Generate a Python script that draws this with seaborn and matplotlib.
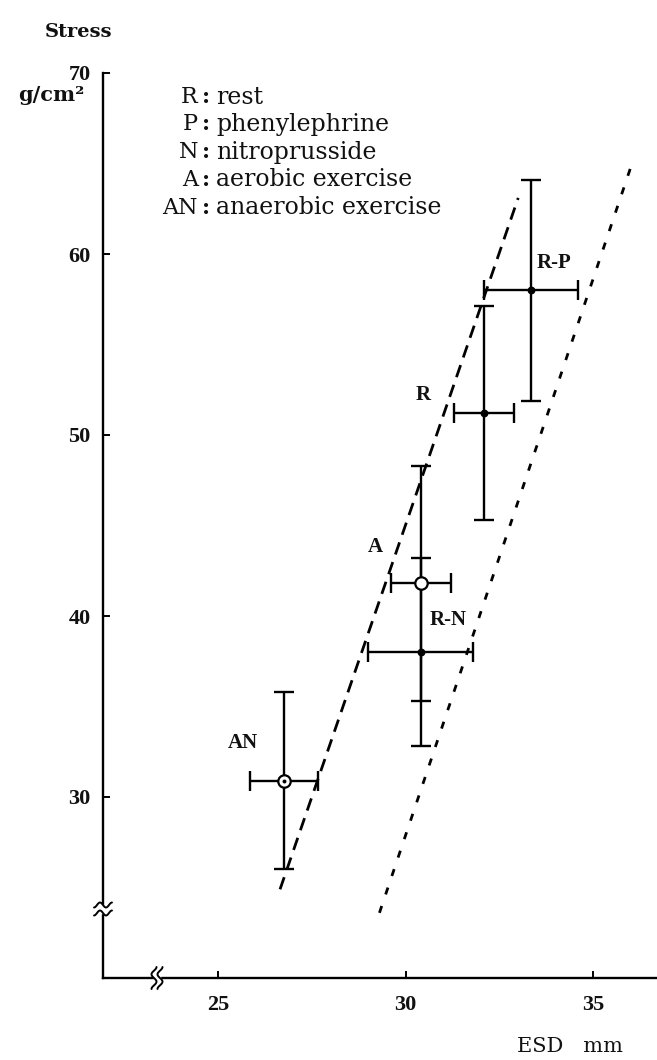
import matplotlib
matplotlib.use("Agg")
import matplotlib.pyplot as plt
import numpy as np
import pandas as pd
import seaborn as sns

# Mean end-systolic diameter (mm) and wall stress (g/cm^2) with SDs
conditions = ["R", "R-P", "R-N", "A", "AN"]
esd = [32.1, 33.35, 30.4, 30.4, 26.75]
esd_sd = [0.8, 1.25, 1.4, 0.8, 0.9]
stress = [51.2, 58.0, 38.0, 41.8, 30.9]
stress_sd = [5.9, 6.1, 5.2, 6.5, 4.9]

# Limits of the normal stress-ESD relation (two boundary lines)
upper_esd = [26.65, 33.0]
upper_stress = [24.9, 63.1]
lower_esd = [29.3, 36.05]
lower_stress = [23.6, 65.1]

# Point label positions (ESD, stress)
label_esd = [30.47, 33.95, 31.13, 29.19, 25.67]
label_stress = [52.2, 59.5, 39.8, 43.8, 33.0]

legend_keys = ["R", "P", "N", "A", "AN"]
legend_names = ["rest", "phenylephrine", "nitroprusside", "aerobic exercise",
                "anaerobic exercise"]

x_ticks = [25, 30, 35]
y_ticks = [30, 40, 50, 60, 70]

sns.set_theme(style="white")
plt.rcParams["font.family"] = ["Liberation Serif", "DejaVu Serif"]
WIDE = ["DejaVu Serif"]
INK = "#111111"

W, H = 657, 1060
fig = plt.figure(figsize=(W / 100, H / 100), dpi=100)
ax_left, ax_right, ax_top, ax_bottom = 103, 657, 73, 978
ax = fig.add_axes([ax_left / W, 1 - ax_bottom / H,
                   (ax_right - ax_left) / W, (ax_bottom - ax_top) / H])
ax.set_xlim(21.93, 36.7)
ax.set_ylim(20, 70)

df = pd.DataFrame({"cond": conditions, "esd": esd, "esd_sd": esd_sd,
                   "stress": stress, "stress_sd": stress_sd})

# Boundary lines
sns.lineplot(x=upper_esd, y=upper_stress, ax=ax, color="black", lw=2.0,
             sort=False)
ax.lines[-1].set_dashes((4.6, 2.9))
sns.lineplot(x=lower_esd, y=lower_stress, ax=ax, color="black", lw=2.0,
             sort=False)
ax.lines[-1].set_dashes((2.6, 4.4))

# Error bars (SD in both directions)
ax.errorbar(df["esd"], df["stress"], xerr=df["esd_sd"], yerr=df["stress_sd"],
            fmt="none", ecolor="black", elinewidth=1.7, capsize=7.5,
            capthick=1.7, zorder=3)

# Markers
filled = df[df["cond"].isin(["R", "R-P", "R-N"])]
sns.scatterplot(data=filled, x="esd", y="stress", ax=ax, color="black",
                s=32, edgecolor="black", linewidth=0, zorder=4)
open_pts = df[df["cond"].isin(["A", "AN"])]
sns.scatterplot(data=open_pts, x="esd", y="stress", ax=ax, color="white",
                s=80, edgecolor="black", linewidth=1.6, zorder=4)
dotted = df[df["cond"] == "AN"]
sns.scatterplot(data=dotted, x="esd", y="stress", ax=ax, color="black",
                s=8, linewidth=0, zorder=5)

for name, lx, ly in zip(conditions, label_esd, label_stress):
    ax.text(lx, ly, name, ha="center", va="center", fontsize=15,
            fontweight="bold", color=INK)

# Axes styling
for side in ["top", "right"]:
    ax.spines[side].set_visible(False)
for side in ["left", "bottom"]:
    ax.spines[side].set_color("black")
    ax.spines[side].set_linewidth(1.7)
ax.set_xticks(x_ticks)
ax.set_yticks(y_ticks)
ax.tick_params(direction="in", length=5, width=1.4, color="black",
               labelsize=16, left=True, bottom=True)
ax.tick_params(axis="x", pad=12)
ax.tick_params(axis="y", pad=9)
for lab in ax.get_xticklabels() + ax.get_yticklabels():
    lab.set_fontweight("bold")
    lab.set_color(INK)
ax.set_xlabel("")
ax.set_ylabel("")


# Axis breaks drawn as short wavy strokes over a gap in the spine
def px_to_axes(px, py):
    return ((px - ax_left) / (ax_right - ax_left),
            (ax_bottom - py) / (ax_bottom - ax_top))


def axis_break(cx, cy, vertical_axis):
    t = np.linspace(-1, 1, 40)
    if vertical_axis:
        gx, gy = px_to_axes(cx - 6, cy + 4)
        gx2, gy2 = px_to_axes(cx + 6, cy - 4)
    else:
        gx, gy = px_to_axes(cx - 3, cy + 6)
        gx2, gy2 = px_to_axes(cx + 3, cy - 6)
    ax.add_patch(plt.Rectangle((gx, gy), gx2 - gx, gy2 - gy,
                               transform=ax.transAxes, color="white",
                               zorder=6, clip_on=False))
    for off in (-4, 4) if vertical_axis else (-3, 3):
        if vertical_axis:
            xs = cx + 9 * t
            ys = cy + off + 2.5 * np.sin(np.pi * t * 1.5)
        else:
            ys = cy + 11 * t
            xs = cx + off + 2.5 * np.sin(np.pi * t * 1.5)
        pts = [px_to_axes(a, b) for a, b in zip(xs, ys)]
        ax.plot(*zip(*pts), transform=ax.transAxes, color="black",
                lw=1.4, zorder=7, clip_on=False)


axis_break(103, 909, True)
axis_break(157, 978, False)


def fig_text(px, py, s, **kw):
    fig.text(px / W, 1 - py / H, s, **kw)


# Axis titles
fig_text(78, 32, "Stress", ha="center", va="center", fontsize=14,
         fontweight="bold", color=INK, family=WIDE)
fig_text(51, 95, "g/cm²", ha="center", va="center", fontsize=15,
         fontweight="bold", color=INK, family=WIDE)
fig_text(570, 1046, "ESD   mm", ha="center", va="center", fontsize=15,
         color=INK, family=WIDE)

# Abbreviation key
key_y = [97, 124, 152, 180, 208]
for k, name, yy in zip(legend_keys, legend_names, key_y):
    fig_text(198, yy, k, ha="right", va="center", fontsize=16,
             color=INK, family=WIDE)
    fig_text(206, yy, ":", ha="center", va="center", fontsize=16,
             fontweight="bold", color=INK, family=WIDE)
    fig_text(216, yy, name, ha="left", va="center", fontsize=17,
             color=INK, family=WIDE)

fig.savefig("out.png", dpi=100, facecolor="white")
